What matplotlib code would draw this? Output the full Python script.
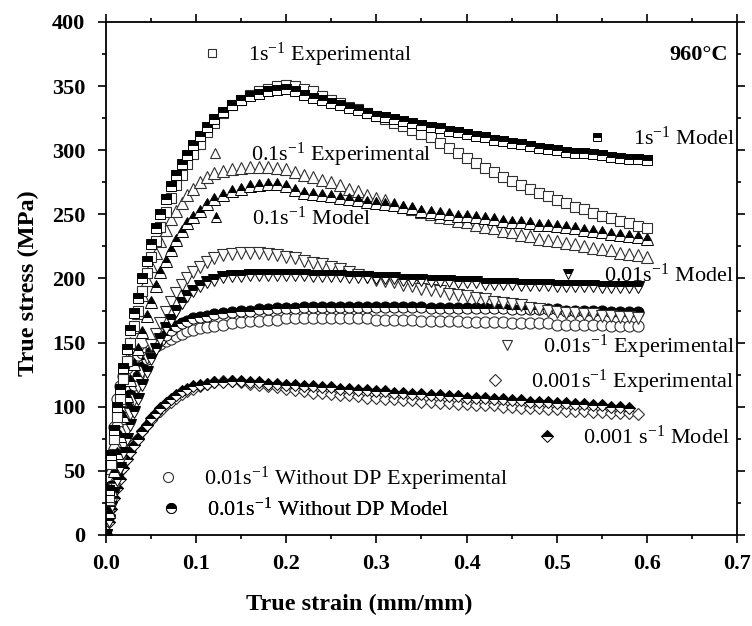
import matplotlib
matplotlib.use('Agg')
import matplotlib.pyplot as plt
from matplotlib.ticker import MultipleLocator

plt.rcParams['font.family'] = 'Liberation Serif'
plt.rcParams['mathtext.fontset'] = 'custom'
plt.rcParams['mathtext.rm'] = 'Liberation Serif'
plt.rcParams['mathtext.it'] = 'Liberation Serif:italic'
plt.rcParams['mathtext.bf'] = 'Liberation Serif:bold'

# deformacao verdadeira (mm/mm), mesma grade para todas as curvas
deformacao = [0.000, 0.003, 0.006, 0.009, 0.012, 0.015, 0.019, 0.023, 0.027, 0.031,
              0.035, 0.040, 0.045, 0.050, 0.055, 0.060, 0.066, 0.072, 0.078, 0.084,
              0.090, 0.097, 0.104, 0.112, 0.120,
              0.13, 0.14, 0.15, 0.16, 0.17, 0.18, 0.19, 0.20, 0.21, 0.22,
              0.23, 0.24, 0.25, 0.26, 0.27, 0.28, 0.29, 0.30, 0.31, 0.32,
              0.33, 0.34, 0.35, 0.36, 0.37, 0.38, 0.39, 0.40, 0.41, 0.42,
              0.43, 0.44, 0.45, 0.46, 0.47, 0.48, 0.49, 0.50, 0.51, 0.52,
              0.53, 0.54, 0.55, 0.56, 0.57, 0.58, 0.59, 0.60]

# tensao verdadeira (MPa)
exp_1 = [0, 30, 55, 75, 92, 106, 122, 136, 150, 163,
         175, 190, 204, 217, 229, 240, 252, 263, 273, 281,
         289, 297, 305, 314, 321,
         329, 335, 339, 343, 346, 348, 350, 351, 350, 348,
         346, 342, 339, 337, 334, 332, 329, 327, 324, 321,
         319, 316, 313, 310, 306, 302, 298, 294, 290, 286,
         283, 279, 276, 273, 270, 267, 264, 261, 259, 256,
         254, 251, 249, 247, 245, 243, 241, 239]
mod_1 = [0, 35, 62, 82, 100, 114, 130, 145, 160, 173,
         185, 200, 214, 227, 239, 250, 262, 272, 281, 289,
         296, 304, 311, 318, 324,
         330, 335, 339, 342, 344, 346, 347, 348, 346, 343,
         341, 339, 337, 335, 333, 331, 329, 327, 326, 324,
         323, 321, 320, 318, 317, 315, 314, 313, 311, 310,
         308, 307, 306, 305, 303, 302, 301, 300, 299, 298,
         298, 297, 296, 295, 294, 293, 293, 292]
exp_01 = [0, 28, 52, 72, 90, 105, 122, 137, 150, 162,
          173, 187, 199, 210, 220, 229, 238, 246, 253, 259,
          265, 270, 275, 279, 282,
          284, 285, 286, 287, 287, 287, 286, 285, 283, 281,
          279, 277, 275, 273, 270, 268, 265, 263, 261, 258,
          256, 254, 252, 250, 248, 247, 245, 244, 242, 240,
          239, 237, 236, 234, 233, 231, 230, 229, 228, 227,
          225, 224, 223, 222, 220, 219, 218, 217]
mod_01 = [0, 18, 35, 50, 64, 77, 93, 108, 121, 133,
          145, 158, 171, 182, 194, 205, 214, 222, 230, 237,
          243, 248, 253, 258, 262,
          265, 268, 270, 272, 273, 274, 274, 272, 269, 267,
          266, 265, 264, 263, 262, 261, 260, 259, 258, 257,
          256, 255, 253, 252, 251, 250, 249, 249, 248, 247,
          246, 245, 244, 244, 243, 242, 242, 241, 240, 239,
          238, 237, 236, 235, 234, 233, 232, 231]
exp_001 = [0, 12, 24, 36, 47, 57, 70, 82, 94, 105,
           115, 127, 138, 148, 157, 165, 174, 182, 189, 195,
           200, 205, 209, 213, 216,
           218, 219, 220, 220, 220, 219, 218, 217, 216, 214,
           212, 211, 209, 207, 205, 203, 201, 199, 198, 197,
           195, 194, 192, 191, 190, 188, 187, 186, 185, 184,
           182, 181, 180, 179, 177, 176, 175, 174, 173, 173,
           172, 172, 171, 171, 170, 170, 169]
mod_001 = [0, 11, 22, 33, 43, 52, 64, 75, 86, 96,
           106, 117, 127, 137, 145, 153, 161, 168, 175, 181,
           186, 190, 194, 197, 199,
           201, 202, 202, 203, 203, 203, 203, 203, 203, 203,
           202, 202, 202, 202, 201, 201, 201, 200, 200, 200,
           199, 199, 199, 198, 198, 198, 197, 197, 197, 196,
           196, 196, 196, 195, 195, 195, 195, 194, 194, 194,
           194, 194, 193, 193, 193, 193, 193]
exp_sem_dp = [0, 30, 60, 84, 106, 116, 124, 130, 135, 138,
              140, 142, 143, 145, 147, 149, 151, 153, 155, 157,
              159, 160, 161, 162, 163,
              164, 165, 166, 167, 167, 168, 168, 169, 169, 169,
              169, 169, 169, 169, 169, 169, 169, 168, 168, 168,
              168, 168, 167, 167, 167, 167, 167, 166, 166, 166,
              166, 166, 165, 165, 165, 165, 165, 164, 164, 164,
              164, 164, 164, 163, 163, 163, 163]
mod_sem_dp = [0, 20, 38, 52, 65, 76, 89, 100, 109, 117,
              124, 131, 137, 143, 148, 152, 156, 160, 163, 165,
              167, 169, 170, 171, 172,
              173, 174, 175, 175, 176, 176, 177, 177, 177, 178,
              178, 178, 178, 178, 178, 178, 178, 178, 178, 178,
              178, 178, 178, 177, 177, 177, 177, 177, 177, 177,
              177, 177, 176, 176, 176, 176, 176, 176, 175, 175,
              175, 175, 175, 174, 174, 174, 174]
exp_0001 = [0, 14, 26, 36, 44, 50, 56, 62, 67, 72,
            76, 81, 86, 90, 94, 97, 101, 104, 107, 110,
            112, 114, 116, 118, 119,
            120, 120, 119, 118, 117, 116, 115, 114, 113, 112,
            111, 111, 110, 109, 109, 108, 107, 107, 106, 106,
            105, 105, 104, 104, 103, 103, 102, 102, 101, 101,
            101, 100, 100, 99, 99, 99, 98, 98, 97, 97,
            97, 96, 96, 95, 95, 95, 94]
mod_0001 = [0, 10, 20, 29, 37, 44, 52, 59, 65, 70,
            75, 81, 86, 91, 95, 99, 103, 106, 109, 112,
            114, 116, 117, 118, 119,
            119, 120, 120, 119, 119, 118, 118, 117, 117, 116,
            116, 115, 115, 114, 114, 113, 113, 112, 112, 111,
            111, 110, 110, 109, 109, 108, 108, 107, 107, 107,
            106, 106, 105, 105, 104, 104, 104, 103, 103, 102,
            102, 101, 101, 100, 100, 99]

rotulos = {
    'exp_1': '1s$^{-1}$ Experimental',
    'mod_1': '1s$^{-1}$ Model',
    'exp_01': '0.1s$^{-1}$ Experimental',
    'mod_01': '0.1s$^{-1}$ Model',
    'exp_001': '0.01s$^{-1}$ Experimental',
    'mod_001': '0.01s$^{-1}$ Model',
    'exp_sem_dp': '0.01s$^{-1}$ Without DP Experimental',
    'mod_sem_dp': '0.01s$^{-1}$ Without DP Model',
    'exp_0001': '0.001s$^{-1}$ Experimental',
    'mod_0001': '0.001 s$^{-1}$ Model',
}


def plota(ax, tensao, marcador, tam, modelo):
    x = deformacao[:len(tensao)]
    if modelo:
        linha, = ax.plot(x, tensao, ls='none', marker=marcador, ms=tam,
                         fillstyle='top', mfc='black', mfcalt='white',
                         mec='black', mew=0.7)
    else:
        linha, = ax.plot(x, tensao, ls='none', marker=marcador, ms=tam,
                         mfc='white', mec='#303030', mew=0.8)
    return linha


fig = plt.figure(figsize=(7.52, 6.26), dpi=100)
ax = fig.add_axes([0.141, 0.1454, 0.839, 0.8195])

linhas = {}
linhas['exp_0001'] = plota(ax, exp_0001, 'D', 6.5, False)
linhas['mod_0001'] = plota(ax, mod_0001, 'D', 6.5, True)
linhas['exp_sem_dp'] = plota(ax, exp_sem_dp, 'o', 8, False)
linhas['mod_sem_dp'] = plota(ax, mod_sem_dp, 'o', 8, True)
linhas['exp_001'] = plota(ax, exp_001, 'v', 8.5, False)
linhas['mod_001'] = plota(ax, mod_001, 'v', 8.5, True)
linhas['exp_01'] = plota(ax, exp_01, '^', 8.5, False)
linhas['mod_01'] = plota(ax, mod_01, '^', 8.5, True)
linhas['exp_1'] = plota(ax, exp_1, 's', 7, False)
linhas['mod_1'] = plota(ax, mod_1, 's', 7, True)

# legendas espalhadas pelo grafico, uma por curva
posicoes = {
    'exp_1': (0.1506, 0.9357),
    'mod_1': (0.7607, 0.7739),
    'exp_01': (0.1553, 0.7407),
    'mod_01': (0.1569, 0.6179),
    'mod_001': (0.7147, 0.5068),
    'exp_001': (0.6181, 0.3665),
    'exp_0001': (0.5990, 0.2982),
    'mod_0001': (0.6815, 0.1910),
    'exp_sem_dp': (0.0808, 0.1092),
    'mod_sem_dp': (0.0856, 0.0507),
}
for chave, (px, py) in posicoes.items():
    leg = ax.legend(handles=[linhas[chave]], labels=[rotulos[chave]],
                    loc='center left', bbox_to_anchor=(px, py),
                    frameon=False, fontsize=16, handlelength=1.0,
                    handletextpad=1.1, borderpad=0, borderaxespad=0,
                    numpoints=1, markerscale=0.9)
    ax.add_artist(leg)

ax.text(0.985, 0.9357, '960°C', transform=ax.transAxes, ha='right',
        va='center', fontsize=16, fontweight='bold')

ax.set_xlim(0, 0.7)
ax.set_ylim(0, 400)
ax.xaxis.set_major_locator(MultipleLocator(0.1))
ax.xaxis.set_minor_locator(MultipleLocator(0.05))
ax.yaxis.set_major_locator(MultipleLocator(50))
ax.yaxis.set_minor_locator(MultipleLocator(25))
ax.xaxis.set_major_formatter(lambda v, p: f'{v:.1f}')
ax.yaxis.set_major_formatter(lambda v, p: f'{v:.0f}')
ax.tick_params(which='both', direction='out', top=True, right=True, width=1.2)
ax.tick_params(which='major', length=6, labelsize=16)
ax.tick_params(axis='x', which='major', pad=8)
ax.tick_params(axis='y', which='major', pad=9)
ax.tick_params(which='minor', length=3)
for lab in ax.get_xticklabels() + ax.get_yticklabels():
    lab.set_fontweight('bold')
for sp in ax.spines.values():
    sp.set_linewidth(1.3)

ax.set_xlabel('True strain (mm/mm)', fontsize=17.5, fontweight='bold')
ax.set_ylabel('True stress (MPa)', fontsize=17.5, fontweight='bold')
ax.xaxis.set_label_coords(0.401, -0.115)
ax.yaxis.set_label_coords(-0.106, 0.49)

fig.savefig('out.png', dpi=100)
